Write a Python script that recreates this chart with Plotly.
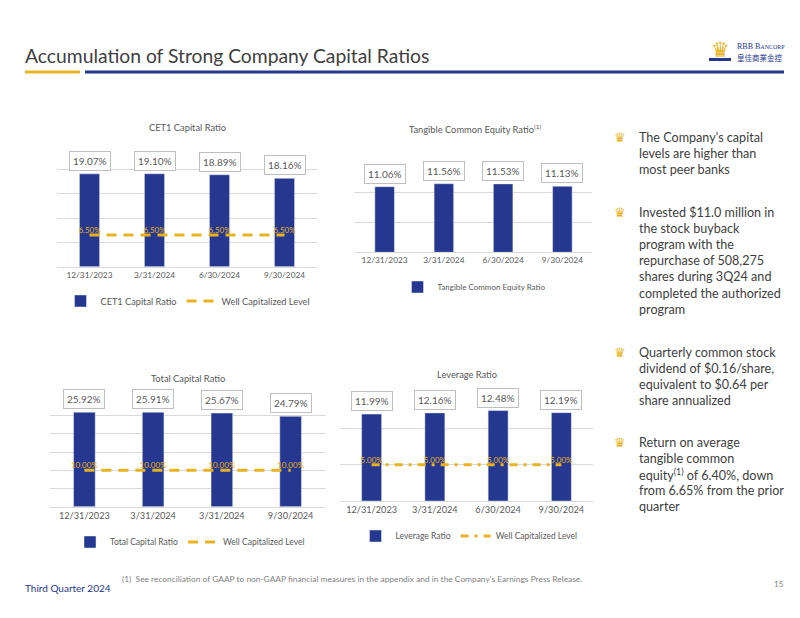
import plotly.graph_objects as go

# ---- data ----
dates = ["12/31/2023", "3/31/2024", "6/30/2024", "9/30/2024"]
dates_total = ["12/31/2023", "3/31/2024", "3/31/2024", "9/30/2024"]

cet1 = [19.07, 19.10, 18.89, 18.16]
cet1_well = [6.50, 6.50, 6.50, 6.50]
tce = [11.06, 11.56, 11.53, 11.13]
total = [25.92, 25.91, 25.67, 24.79]
total_well = [10.00, 10.00, 10.00, 10.00]
leverage = [11.99, 12.16, 12.48, 12.19]
leverage_well = [5.00, 5.00, 5.00, 5.00]

bullets = [
    ["The Company's capital", "levels are higher than", "most peer banks"],
    ["Invested $11.0 million in", "the stock buyback", "program with the",
     "repurchase of 508,275", "shares during 3Q24 and",
     "completed the authorized", "program"],
    ["Quarterly common stock", "dividend of $0.16/share,",
     "equivalent to $0.64 per", "share annualized"],
    ["Return on average", "tangible common",
     "equity<sup>(1)</sup> of 6.40%, down", "from 6.65% from the prior",
     "quarter"],
]

W, H = 800, 618
OFF = 8  # page body margin pushes the plot 8px right/down
FONT = "Lato"
NAVY = "#25378F"
GOLD = "#E8B321"
GREY = "#595959"


def px(x):
    return (x - OFF) / W


def py(y):
    return 1 - (y - OFF) / H


fig = go.Figure()


def label(x, y, text, size, color, xanchor="center", family=FONT, **kw):
    fig.add_annotation(x=px(x), y=py(y), xref="paper", yref="paper",
                       text=text, showarrow=False, xanchor=xanchor,
                       yanchor="middle",
                       font=dict(size=size, color=color, family=family), **kw)


def add_panel(n, title, values, ticks, name, xdom, ydom, ymax, width,
              title_xy, legend_xy, tick_size, well=None, dash=None,
              legend_size=9):
    xa = "x" if n == 1 else f"x{n}"
    ya = "y" if n == 1 else f"y{n}"
    lg = "legend" if n == 1 else f"legend{n}"
    xs = list(range(len(values)))
    fig.add_trace(go.Bar(x=xs, y=values, name=name, width=width,
                         marker_color=NAVY, xaxis=xa, yaxis=ya, legend=lg,
                         hoverinfo="skip"))
    if well is not None:
        fig.add_trace(go.Scatter(
            x=xs, y=well, name="Well Capitalized Level", mode="lines+text",
            text=[f"{v:.2f}%" for v in well], textposition="top center",
            textfont=dict(color=GOLD, size=8, family=FONT),
            line=dict(color=GOLD, width=3, dash=dash),
            xaxis=xa, yaxis=ya, legend=lg, hoverinfo="skip"))
    for x, v in zip(xs, values):
        fig.add_annotation(x=x, y=v, xref=xa, yref=ya, text=f"{v:.2f}%",
                           showarrow=False, xanchor="center",
                           yanchor="bottom", yshift=3,
                           font=dict(size=10, color=GREY, family=FONT),
                           bgcolor="white", bordercolor="#BFBFBF",
                           borderwidth=1, borderpad=3)
    label(title_xy[0], title_xy[1], title, 9.3, GREY)
    key = "" if n == 1 else str(n)
    fig.update_layout(**{
        f"xaxis{key}": dict(domain=[px(xdom[0]), px(xdom[1])],
                            anchor=ya, range=[-0.5, 3.5], tickvals=xs,
                            ticktext=ticks, showgrid=False, zeroline=False,
                            showline=True, linecolor="#D9D9D9", ticks="",
                            tickfont=dict(size=tick_size, color=GREY,
                                          family=FONT)),
        f"yaxis{key}": dict(domain=[py(ydom[1]), py(ydom[0])],
                            anchor=xa, range=[0, ymax], dtick=5,
                            showticklabels=False, gridcolor="#D9D9D9",
                            zeroline=False),
        lg: dict(orientation="h", x=px(legend_xy[0]), y=py(legend_xy[1]),
                 xanchor="center", yanchor="middle", bgcolor="rgba(0,0,0,0)",
                 font=dict(size=legend_size, color=GREY, family=FONT),
                 itemwidth=30, traceorder="normal"),
    })


add_panel(1, "CET1 Capital Ratio", cet1, dates, "CET1 Capital Ratio",
          (57, 317), (145, 266.7), 25, 0.31, (187, 127), (188, 301), 8.3,
          well=cet1_well, dash="10px,7px", legend_size=9.2)
add_panel(2, "Tangible Common Equity Ratio<sup>(1)</sup>", tce, dates,
          "Tangible Common Equity Ratio", (355, 592), (163.3, 252.3), 15,
          0.33, (475, 129), (474, 287), 8.3, legend_size=8)
add_panel(3, "Total Capital Ratio", total, dates_total, "Total Capital Ratio",
          (50, 325), (397.3, 506.7), 30, 0.315, (188, 378), (190, 542), 9.2,
          well=total_well, dash="10px,7px", legend_size=8.5)
add_panel(4, "Leverage Ratio", leverage, dates, "Leverage Ratio",
          (340, 593), (392.3, 501), 15, 0.316, (467, 374), (469, 536), 9.2,
          well=leverage_well, dash="8px,6px,3px,6px", legend_size=8.5)

# bullet text on the right
starts = [137, 212, 352, 442]
for lines, y0 in zip(bullets, starts):
    label(620, y0, "♛", 13, GOLD, family="DejaVu Sans")
    for i, line in enumerate(lines):
        label(637, y0 + 16.2 * i, line, 12.6, "#404040", xanchor="left")

# header
label(23, 55, "Accumulation of Strong Company Capital Ratios", 19.3,
      "#404040", xanchor="left")
fig.add_shape(type="line", xref="paper", yref="paper", x0=px(25), x1=px(80),
              y0=py(72), y1=py(72), line=dict(color=GOLD, width=3))
fig.add_shape(type="line", xref="paper", yref="paper", x0=px(85), x1=px(784),
              y0=py(72), y1=py(72), line=dict(color=NAVY, width=3))

# logo
label(720, 50, "♛", 21, GOLD, family="DejaVu Sans")
fig.add_shape(type="rect", xref="paper", yref="paper", x0=px(709), x1=px(731),
              y0=py(61), y1=py(58), fillcolor=NAVY, line_width=0)
label(735, 46, "RBB B<span style='font-size:6px'>ANCORP</span>", 8, NAVY,
      xanchor="left", family="Liberation Serif")
label(735, 57, "皇佳商業金控", 7.5, NAVY, xanchor="left",
      family="Noto Sans CJK TC")

# footer
label(23, 588, "Third Quarter 2024", 10, NAVY, xanchor="left")
label(120, 579, "(1)  See reconciliation of GAAP to non-GAAP financial "
      "measures in the appendix and in the Company's Earnings Press Release.",
      8.4, "#7F7F7F", xanchor="left")
label(779, 584, "15", 8, "#7F7F7F")

fig.update_layout(width=W, height=H, margin=dict(l=0, r=0, t=0, b=0),
                  paper_bgcolor="white", plot_bgcolor="white",
                  showlegend=True, barmode="overlay",
                  font=dict(family=FONT, color=GREY))

fig.write_html("out.html")
